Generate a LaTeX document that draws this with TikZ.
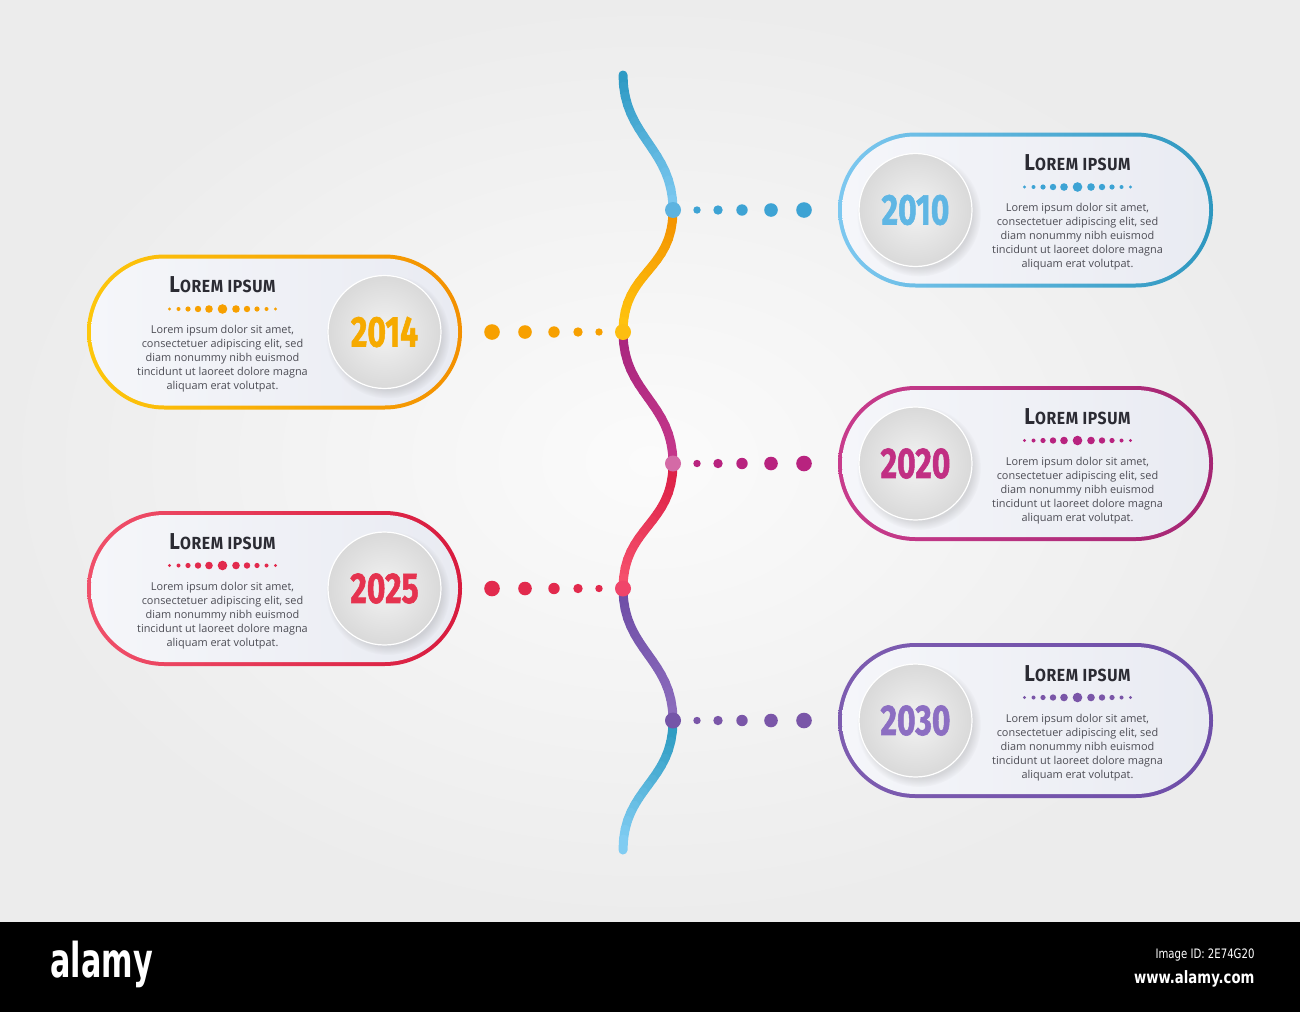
\documentclass[tikz,border=0pt]{standalone}
\usepackage{fontspec}
\setmainfont{Open Sans}
\newfontfamily\yearfont[BoldFeatures={FakeBold=1.5}]{Fira Sans}
\newfontfamily\ttlfont[LetterSpace=4]{Fira Sans}
\newfontfamily\markfont{DejaVu Sans}
\usetikzlibrary{positioning,calc,shadows}
% spine colours (top -> bottom of each piece)
\definecolor{spA1}{HTML}{2E9AC4}\definecolor{spB1}{HTML}{7AC7EF}
\definecolor{spA2}{HTML}{F39200}\definecolor{spB2}{HTML}{FFC20E}
\definecolor{spA3}{HTML}{A8267E}\definecolor{spB3}{HTML}{C4368A}
\definecolor{spA4}{HTML}{DC1F45}\definecolor{spB4}{HTML}{F5506C}
\definecolor{spA5}{HTML}{6E4DA6}\definecolor{spB5}{HTML}{8B6BBC}
\definecolor{spA6}{HTML}{2A9AC0}\definecolor{spB6}{HTML}{80CCF2}
% card colours
\definecolor{stkA1}{HTML}{7DC8F0}\definecolor{stkB1}{HTML}{2E97BF}
\definecolor{stkA2}{HTML}{FDC70C}\definecolor{stkB2}{HTML}{F39000}
\definecolor{stkA3}{HTML}{C83C8C}\definecolor{stkB3}{HTML}{A52673}
\definecolor{stkA4}{HTML}{F0506A}\definecolor{stkB4}{HTML}{D81B3E}
\definecolor{stkA5}{HTML}{7D5CB0}\definecolor{stkB5}{HTML}{6E4EA8}
\definecolor{yr1}{HTML}{5FB6E4}\definecolor{yr2}{HTML}{F6AA00}
\definecolor{yr3}{HTML}{C12F83}\definecolor{yr4}{HTML}{E5334F}
\definecolor{yr5}{HTML}{8C6EC2}
\definecolor{dot1}{HTML}{3DA3D4}\definecolor{dot2}{HTML}{F7A000}
\definecolor{dot3}{HTML}{B8237F}\definecolor{dot4}{HTML}{E22A4D}
\definecolor{dot5}{HTML}{7A56A8}
\definecolor{jc1}{HTML}{5DB3E0}\definecolor{jc2}{HTML}{FDBE10}
\definecolor{jc3}{HTML}{D46AA6}\definecolor{jc4}{HTML}{F0456A}
\definecolor{jc5}{HTML}{7555A8}
\definecolor{bgA}{HTML}{FBFBFB}\definecolor{bgB}{HTML}{ECECEC}
\definecolor{cardA}{HTML}{F5F6FA}\definecolor{cardB}{HTML}{E9EBF2}
\definecolor{discA}{HTML}{F3F3F3}\definecolor{discB}{HTML}{D9D9D9}
\definecolor{titlec}{HTML}{2B2B33}\definecolor{bodyc}{HTML}{4D4D55}
\tikzset{
spine/.style = {line width=9pt, line cap=round},
joint/.style = {circle, inner sep=0pt, minimum size=16pt},
card/.style  = {rectangle, rounded corners=77.5pt, minimum width=375pt, minimum height=155pt, inner sep=0pt},
inner/.style = {rectangle, rounded corners=73.5pt, minimum width=367pt, minimum height=147pt, inner sep=0pt, left color=cardA, right color=cardB},
disc/.style  = {circle, minimum size=113pt, inner color=discA, outer color=discB, draw=white, line width=1.2pt,
                circular drop shadow={shadow xshift=3pt, shadow yshift=-4pt, opacity=0.25}},
yearlbl/.style = {font=\yearfont\bfseries\fontsize{43}{43}\selectfont},
title/.style = {font=\ttlfont\bfseries, text=titlec, inner sep=0pt},
body/.style  = {align=center, font=\fontsize{10.9}{14}\selectfont, text=bodyc, inner sep=0pt}
}
\begin{document}
\begin{tikzpicture}[x=1pt, y=-1pt]
  \useasboundingbox (0,0) rectangle (1300,1012);
  \shade[inner color=bgA, outer color=bgB] (0,0) rectangle (1300,922);
  \fill[black] (0,922) rectangle (1300,1012);

  % spine
  \coordinate (top) at (623,75);
  \coordinate (j1) at (673,210);
  \coordinate (j2) at (623,332);
  \coordinate (j3) at (673,463.5);
  \coordinate (j4) at (623,588.5);
  \coordinate (j5) at (673,720.5);
  \coordinate (bot) at (623,850);
  \foreach \a/\b/\i in {top/j1/1, j1/j2/2, j2/j3/3, j3/j4/4, j4/j5/5, j5/bot/6} {
    \path (\a) .. controls +(0,62) and +(0,-62) .. (\b)
      foreach \k in {0,...,16} {coordinate[pos=\k/16] (p\k)};
    \foreach \k [count=\n] in {0,...,15} {
      \pgfmathsetmacro\pc{100*\k/15}
      \draw[spine, spB\i!\pc!spA\i] (p\k) -- (p\n);
    }
  }

  % cards
  \foreach \i/\yr/\cx/\cy/\sg in {1/2010/1025.5/210/1, 2/2014/274.5/332/-1, 3/2020/1025.5/463.5/1,
                                  4/2025/274.5/588.5/-1, 5/2030/1025.5/720.5/1} {
    \node[joint, fill=jc\i] (jn\i) at (j\i) {};
    \foreach \o/\r in {24/3.7, 45/4.7, 69/5.7, 98/6.8, 131/7.8}
      \fill[dot\i] ($(jn\i.center)+(\sg*\o,0)$) circle[radius=\r pt];
    \node[card, left color=stkA\i, right color=stkB\i] (card\i) at (\cx,\cy) {};
    \node[inner] at (card\i.center) {};
    \node[disc] (disc\i) at ($(card\i.center)+(-110*\sg,0)$) {};
    \node[yearlbl, text=yr\i] at (disc\i) {\scalebox{0.74}[1]{\yr}};
    \node[title] (ttl\i) at ($(card\i.center)+(52*\sg,-47)$)
      {\scalebox{0.9}[1]{{\fontsize{23}{23}\selectfont L}{\fontsize{17.5}{17.5}\selectfont OREM IPSUM}}};
    \foreach \o/\r in {-53/1.6, -44/2, -34.5/2.6, -24.5/3.2, -13.5/3.8, 0/4.8, 13.5/3.8, 24.5/3.2, 34.5/2.6, 44/2, 53/1.6}
      \fill[dot\i] ($(card\i.center)+(52*\sg+\o,-23)$) circle[radius=\r pt];
    \node[body] at ($(card\i.center)+(52*\sg,27)$)
      {Lorem ipsum dolor sit amet,\\consectetuer adipiscing elit, sed\\diam nonummy nibh euismod\\tincidunt ut laoreet dolore magna\\aliquam erat volutpat.};
  }

  % footer
  \node[anchor=west, text=white, font=\markfont\bfseries\fontsize{48}{48}\selectfont] (logo) at (47,964) {\scalebox{0.63}[1]{alamy}};
  \node[anchor=east, text=white, font=\markfont\fontsize{13}{13}\selectfont] (imgid) at (1258,955) {\scalebox{0.78}[1]{Image ID: 2E74G20}};
  \node[anchor=east, text=white, font=\markfont\bfseries\fontsize{17}{17}\selectfont] (site) at (1258,979) {\scalebox{0.78}[1]{www.alamy.com}};
\end{tikzpicture}
\end{document}
